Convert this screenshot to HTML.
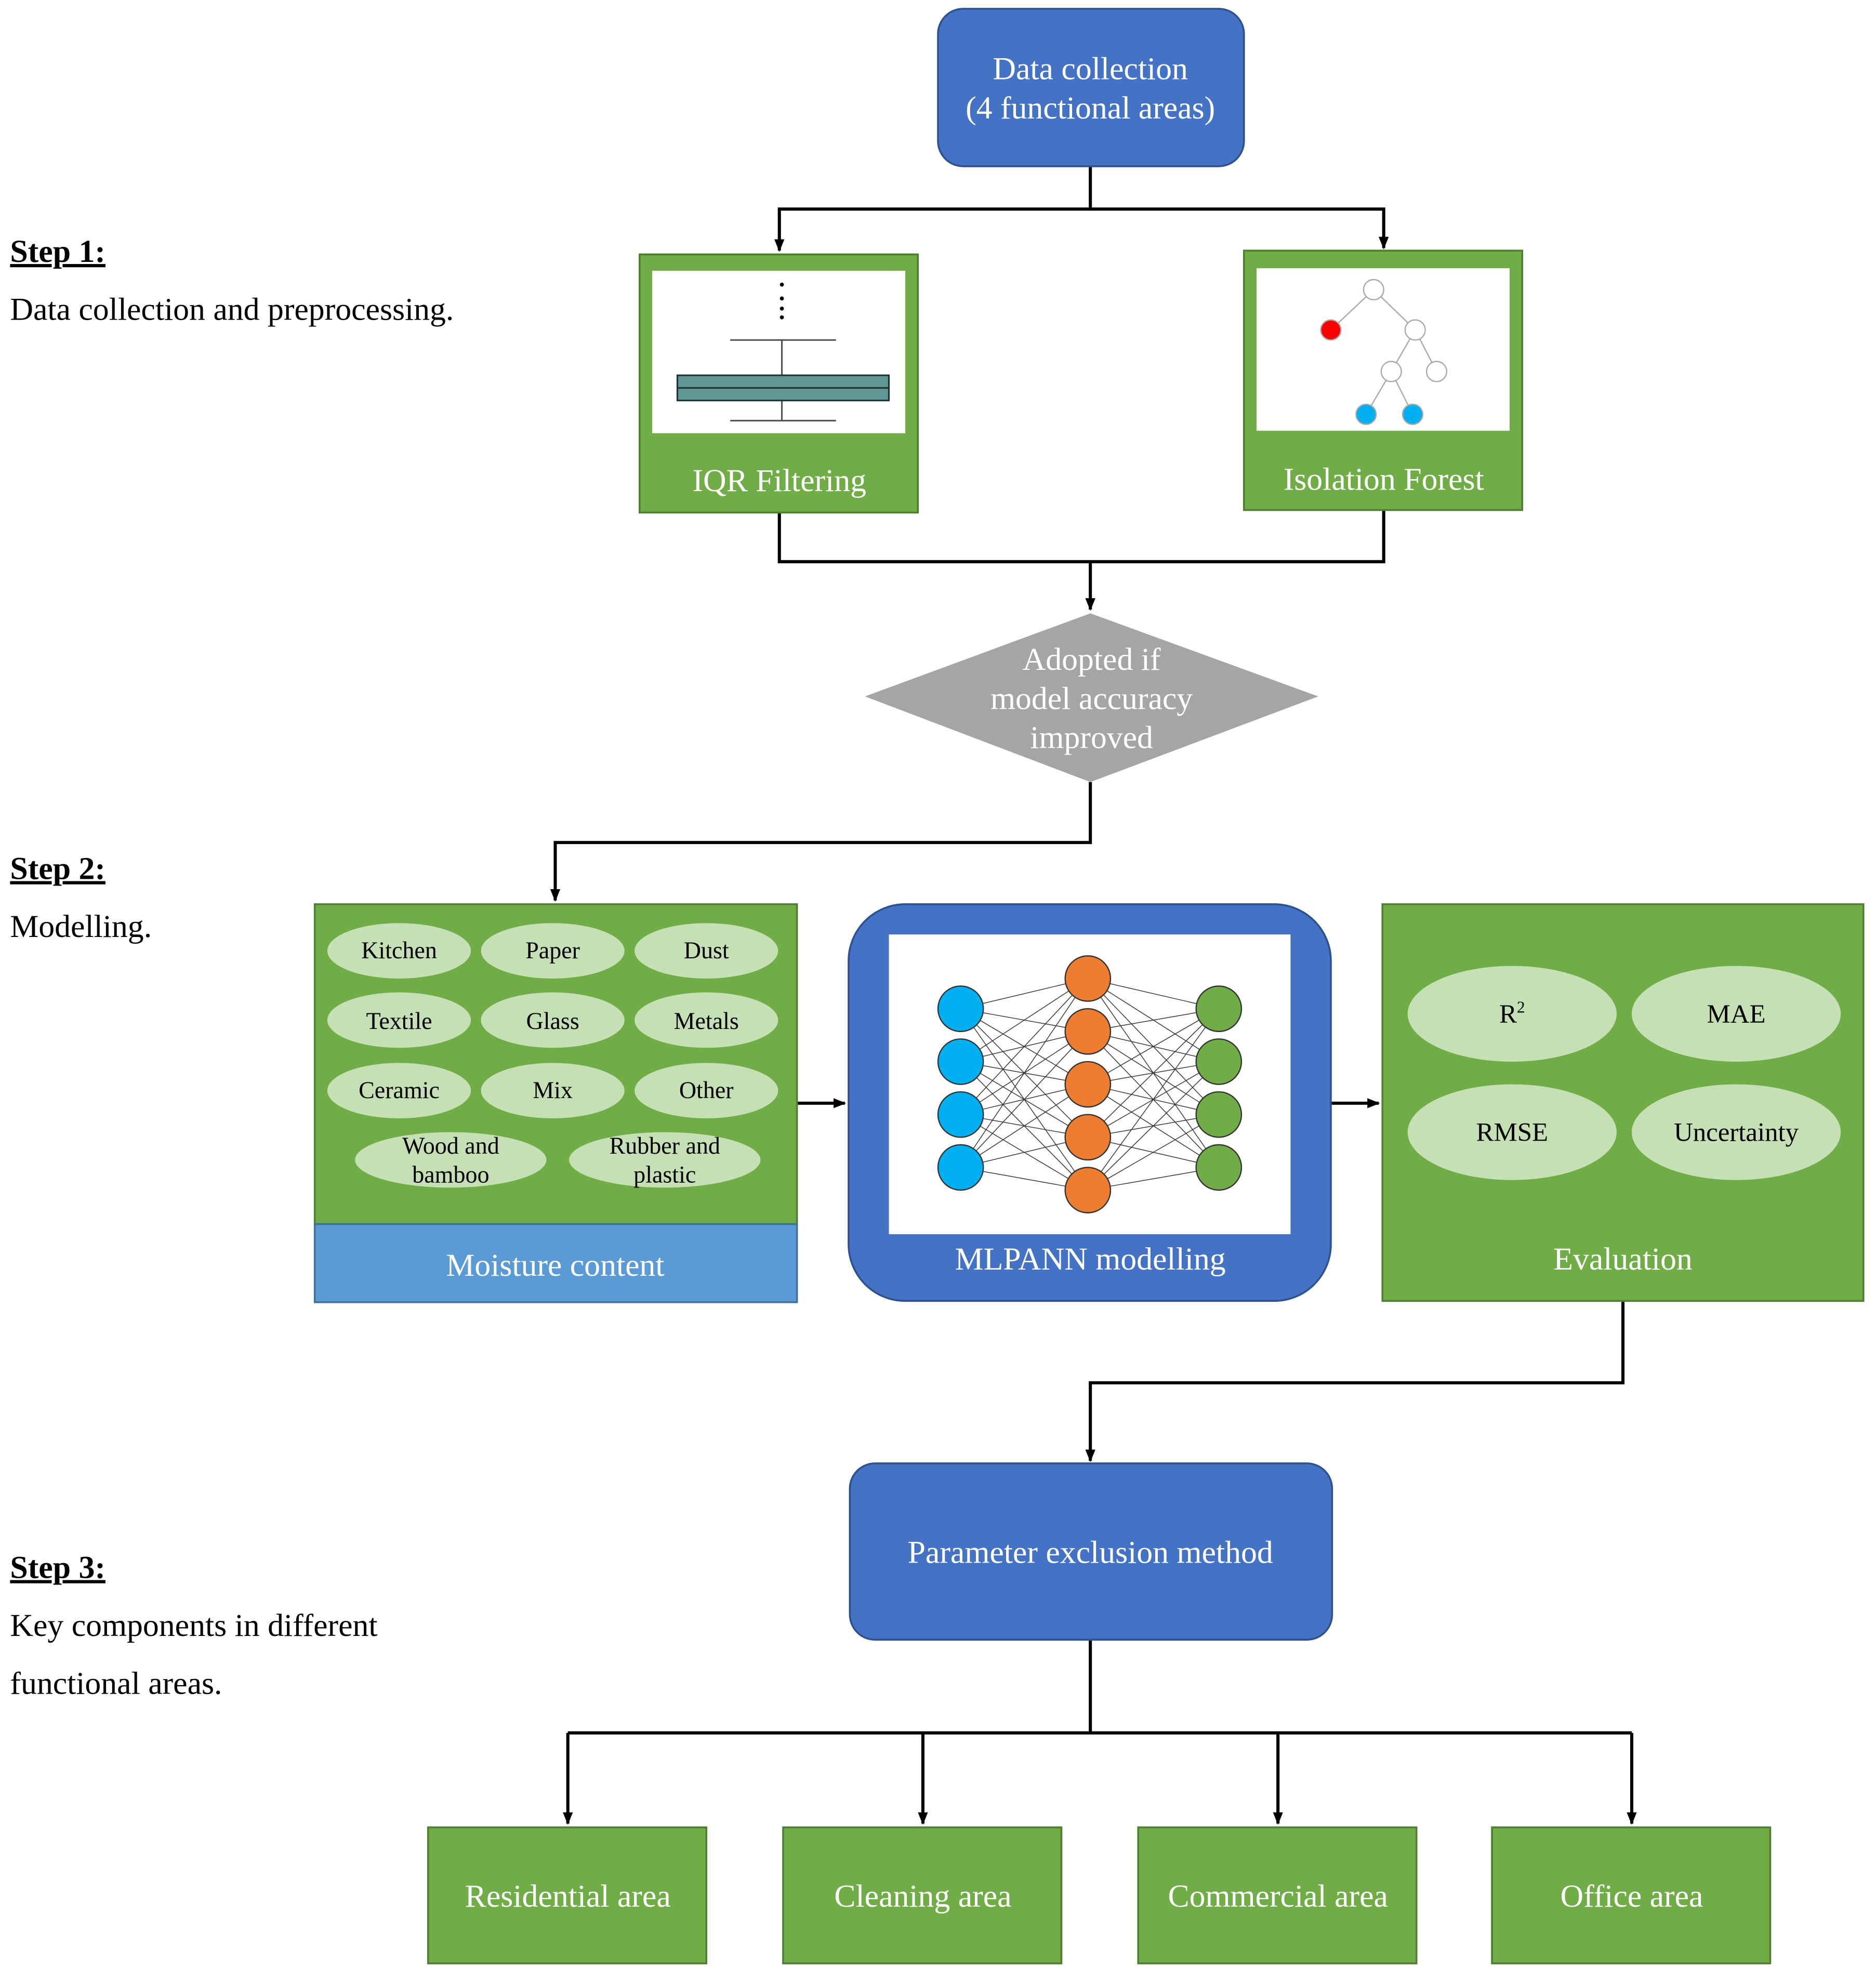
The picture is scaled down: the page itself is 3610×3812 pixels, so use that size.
<!DOCTYPE html>
<html><head><meta charset="utf-8"><style>
html,body{margin:0;padding:0;background:#fff;}
svg{display:block;}
text{font-family:"Liberation Serif",serif;}
</style></head><body>
<svg width="3610" height="3812" viewBox="0 0 1490 1573" preserveAspectRatio="none" xmlns="http://www.w3.org/2000/svg">
<defs>
<marker id="a" markerWidth="10" markerHeight="10" refX="9" refY="5" orient="auto" markerUnits="userSpaceOnUse">
<path d="M0,1 L10,5 L0,9 Z" fill="#000"/></marker>
</defs>
<rect width="1490" height="1573" fill="#fff"/>
<g font-size="25.5" fill="#000">
<text x="8" y="208" font-weight="bold" text-decoration="underline">Step 1:</text>
<text x="8" y="254">Data collection and preprocessing.</text>
<text x="8" y="698" font-weight="bold" text-decoration="underline">Step 2:</text>
<text x="8" y="744">Modelling.</text>
<text x="8" y="1253" font-weight="bold" text-decoration="underline">Step 3:</text>
<text x="8" y="1299">Key components in different</text>
<text x="8" y="1345">functional areas.</text>
</g>
<g stroke="#000" stroke-width="2.5" fill="none">
<path d="M866,132 V166 H619 V199" marker-end="url(#a)"/>
<path d="M866,166 H1099 V197" marker-end="url(#a)"/>
<path d="M619,407 V446 H1099 V405"/>
<path d="M866,446 V484" marker-end="url(#a)"/>
<path d="M866,621 V669 H441 V715" marker-end="url(#a)"/>
<path d="M633,876 H671" marker-end="url(#a)"/>
<path d="M1057,876 H1095" marker-end="url(#a)"/>
<path d="M1289,1033 V1098 H866 V1160" marker-end="url(#a)"/>
<path d="M866,1302 V1376"/>
<path d="M451,1376 H1296"/>
<path d="M451,1376 V1448" marker-end="url(#a)"/>
<path d="M733,1376 V1448" marker-end="url(#a)"/>
<path d="M1015,1376 V1448" marker-end="url(#a)"/>
<path d="M1296,1376 V1448" marker-end="url(#a)"/>
</g>
<rect x="745" y="7" width="243" height="125" rx="20" fill="#4472C4" stroke="#2F528F" stroke-width="1.5"/>
<g fill="#fff" font-size="25.5" text-anchor="middle">
<text x="866" y="63">Data collection</text>
<text x="866" y="94">(4 functional areas)</text>
</g>
<rect x="508" y="202" width="221" height="205" fill="#70AD47" stroke="#507E32" stroke-width="1.5"/>
<rect x="518" y="215" width="201" height="129" fill="#fff"/>
<g fill="#000"><circle cx="621" cy="226" r="1.6"/><circle cx="621" cy="237" r="1.6"/><circle cx="621" cy="245" r="1.6"/><circle cx="621" cy="252" r="1.6"/></g>
<g stroke="#555" stroke-width="1.3">
<line x1="580" y1="270" x2="664" y2="270"/><line x1="621" y1="270" x2="621" y2="298"/>
<line x1="621" y1="318" x2="621" y2="334"/><line x1="580" y1="334" x2="664" y2="334"/>
</g>
<rect x="538" y="298" width="168" height="20" fill="#5F9795" stroke="#233" stroke-width="1.3"/>
<line x1="538" y1="308" x2="706" y2="308" stroke="#233" stroke-width="1.3"/>
<text x="619" y="390" fill="#fff" font-size="25.5" text-anchor="middle">IQR Filtering</text>
<rect x="988" y="199" width="221" height="206" fill="#70AD47" stroke="#507E32" stroke-width="1.5"/>
<rect x="998" y="213" width="201" height="129" fill="#fff"/>
<g stroke="#aaa" stroke-width="1">
<line x1="1091" y1="230" x2="1057" y2="262"/><line x1="1091" y1="230" x2="1124" y2="262"/>
<line x1="1124" y1="262" x2="1105" y2="295"/><line x1="1124" y1="262" x2="1141" y2="295"/>
<line x1="1105" y1="295" x2="1085" y2="329"/><line x1="1105" y1="295" x2="1122" y2="329"/>
</g>
<g stroke="#aaa" stroke-width="1">
<circle cx="1091" cy="230" r="8" fill="#fff"/><circle cx="1057" cy="262" r="8" fill="#f00"/>
<circle cx="1124" cy="262" r="8" fill="#fff"/><circle cx="1105" cy="295" r="8" fill="#fff"/>
<circle cx="1141" cy="295" r="8" fill="#fff"/><circle cx="1085" cy="329" r="8" fill="#00B0F0"/>
<circle cx="1122" cy="329" r="8" fill="#00B0F0"/>
</g>
<text x="1099" y="389" fill="#fff" font-size="25.5" text-anchor="middle">Isolation Forest</text>
<polygon points="866,487 1047,553 866,621 687,553" fill="#A5A5A5"/>
<g fill="#fff" font-size="25.5" text-anchor="middle">
<text x="867" y="532">Adopted if</text><text x="867" y="563">model accuracy</text><text x="867" y="594">improved</text>
</g>
<rect x="250" y="718" width="383" height="254" fill="#70AD47" stroke="#507E32" stroke-width="1.5"/>
<rect x="250" y="972" width="383" height="62" fill="#5B9BD5" stroke="#41719C" stroke-width="1.5"/>
<text x="441" y="1013" fill="#fff" font-size="25.5" text-anchor="middle">Moisture content</text>
<g fill="#C5E0B4">
<ellipse cx="317" cy="755" rx="57" ry="22"/><ellipse cx="439" cy="755" rx="57" ry="22"/><ellipse cx="561" cy="755" rx="57" ry="22"/>
<ellipse cx="317" cy="810" rx="57" ry="22"/><ellipse cx="439" cy="810" rx="57" ry="22"/><ellipse cx="561" cy="810" rx="57" ry="22"/>
<ellipse cx="317" cy="866" rx="57" ry="22"/><ellipse cx="439" cy="866" rx="57" ry="22"/><ellipse cx="561" cy="866" rx="57" ry="22"/>
<ellipse cx="358" cy="921" rx="76" ry="22"/><ellipse cx="528" cy="921" rx="76" ry="22"/>
</g>
<g fill="#000" font-size="19" text-anchor="middle">
<text x="317" y="761">Kitchen</text><text x="439" y="761">Paper</text><text x="561" y="761">Dust</text>
<text x="317" y="817">Textile</text><text x="439" y="817">Glass</text><text x="561" y="817">Metals</text>
<text x="317" y="872">Ceramic</text><text x="439" y="872">Mix</text><text x="561" y="872">Other</text>
<text x="358" y="916">Wood and</text><text x="358" y="939">bamboo</text>
<text x="528" y="916">Rubber and</text><text x="528" y="939">plastic</text>
</g>
<rect x="674" y="718" width="383" height="315" rx="45" fill="#4472C4" stroke="#2F528F" stroke-width="1.5"/>
<rect x="706" y="742" width="319" height="238" fill="#fff"/>
<g stroke="#333" stroke-width="0.6">
<path d="M763,801L864,777M763,801L864,819M763,801L864,861M763,801L864,903M763,801L864,945M763,843L864,777M763,843L864,819M763,843L864,861M763,843L864,903M763,843L864,945M763,885L864,777M763,885L864,819M763,885L864,861M763,885L864,903M763,885L864,945M763,927L864,777M763,927L864,819M763,927L864,861M763,927L864,903M763,927L864,945"/>
<path d="M864,777L968,801M864,777L968,843M864,777L968,885M864,777L968,927M864,819L968,801M864,819L968,843M864,819L968,885M864,819L968,927M864,861L968,801M864,861L968,843M864,861L968,885M864,861L968,927M864,903L968,801M864,903L968,843M864,903L968,885M864,903L968,927M864,945L968,801M864,945L968,843M864,945L968,885M864,945L968,927"/>
</g>
<g stroke="#333" stroke-width="1">
<circle cx="763" cy="801" r="18" fill="#00B0F0"/><circle cx="763" cy="843" r="18" fill="#00B0F0"/><circle cx="763" cy="885" r="18" fill="#00B0F0"/><circle cx="763" cy="927" r="18" fill="#00B0F0"/>
<circle cx="864" cy="777" r="18" fill="#ED7D31"/><circle cx="864" cy="819" r="18" fill="#ED7D31"/><circle cx="864" cy="861" r="18" fill="#ED7D31"/><circle cx="864" cy="903" r="18" fill="#ED7D31"/><circle cx="864" cy="945" r="18" fill="#ED7D31"/>
<circle cx="968" cy="801" r="18" fill="#70AD47"/><circle cx="968" cy="843" r="18" fill="#70AD47"/><circle cx="968" cy="885" r="18" fill="#70AD47"/><circle cx="968" cy="927" r="18" fill="#70AD47"/>
</g>
<text x="866" y="1008" fill="#fff" font-size="25.5" text-anchor="middle">MLPANN modelling</text>
<rect x="1098" y="718" width="382" height="315" fill="#70AD47" stroke="#507E32" stroke-width="1.5"/>
<g fill="#C5E0B4">
<ellipse cx="1201" cy="805" rx="83" ry="38"/><ellipse cx="1379" cy="805" rx="83" ry="38"/>
<ellipse cx="1201" cy="899" rx="83" ry="38"/><ellipse cx="1379" cy="899" rx="83" ry="38"/>
</g>
<g fill="#000" font-size="21" text-anchor="middle">
<text x="1201" y="812">R<tspan font-size="13" dy="-8">2</tspan></text>
<text x="1379" y="812">MAE</text><text x="1201" y="906">RMSE</text><text x="1379" y="906">Uncertainty</text>
</g>
<text x="1289" y="1008" fill="#fff" font-size="25.5" text-anchor="middle">Evaluation</text>
<rect x="675" y="1162" width="383" height="140" rx="20" fill="#4472C4" stroke="#2F528F" stroke-width="1.5"/>
<text x="866" y="1241" fill="#fff" font-size="25.5" text-anchor="middle">Parameter exclusion method</text>
<g fill="#70AD47" stroke="#507E32" stroke-width="1.5">
<rect x="340" y="1451" width="221" height="108"/><rect x="622" y="1451" width="221" height="108"/>
<rect x="904" y="1451" width="221" height="108"/><rect x="1185" y="1451" width="221" height="108"/>
</g>
<g fill="#fff" font-size="25.5" text-anchor="middle">
<text x="451" y="1514">Residential area</text><text x="733" y="1514">Cleaning area</text>
<text x="1015" y="1514">Commercial area</text><text x="1296" y="1514">Office area</text>
</g>
</svg>
</body></html>
